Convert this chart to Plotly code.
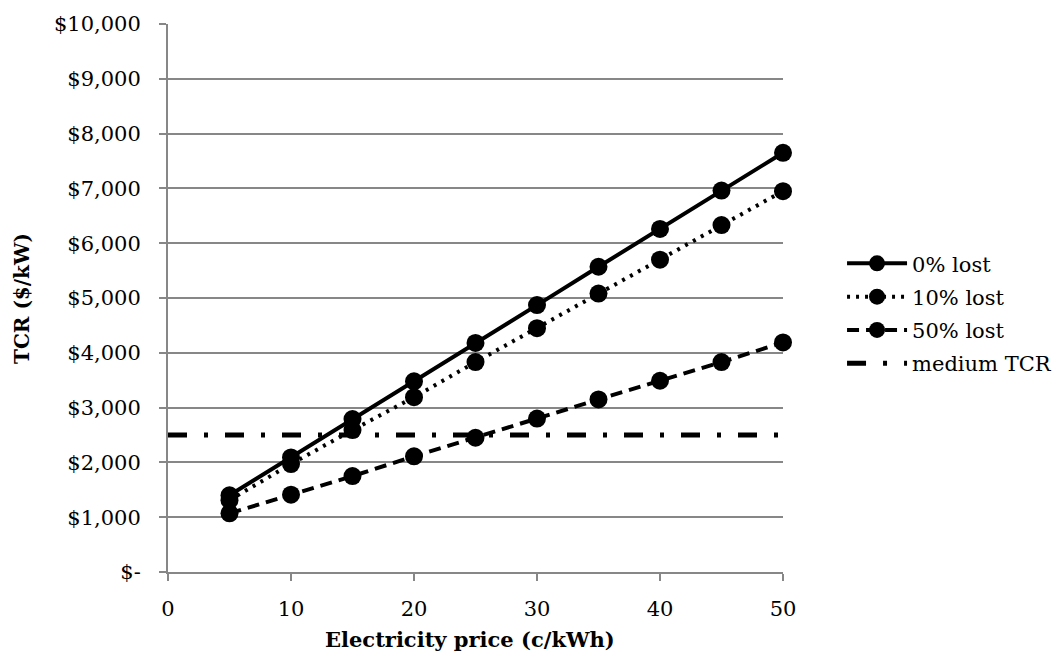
import plotly.graph_objects as go

price = [5, 10, 15, 20, 25, 30, 35, 40, 45, 50]
lost0 = [1400, 2090, 2790, 3480, 4180, 4870, 5570, 6260, 6960, 7650]
lost10 = [1310, 1970, 2590, 3190, 3830, 4450, 5080, 5700, 6330, 6950]
lost50 = [1070, 1410, 1750, 2110, 2450, 2800, 3150, 3490, 3830, 4190]
medium_x = [0, 50]
medium_tcr = [2500, 2500]

y_tickvals = [0, 1000, 2000, 3000, 4000, 5000, 6000, 7000, 8000, 9000, 10000]
y_ticktext = ["$-", "$1,000", "$2,000", "$3,000", "$4,000", "$5,000",
              "$6,000", "$7,000", "$8,000", "$9,000", "$10,000"]
x_tickvals = [0, 10, 20, 30, 40, 50]

FONT = "DejaVu Serif"
GRID = "#878787"

fig = go.Figure()
marker = dict(symbol="circle", size=18, color="black")
fig.add_trace(go.Scatter(x=price, y=lost0, name="0% lost", mode="lines+markers",
                         line=dict(color="black", width=4, dash="solid"),
                         marker=marker, cliponaxis=False, legendgroup="a"))
fig.add_trace(go.Scatter(x=price, y=lost10, name="10% lost", mode="lines+markers",
                         line=dict(color="black", width=4, dash="3px,6px"),
                         marker=marker, cliponaxis=False, legendgroup="b"))
fig.add_trace(go.Scatter(x=price, y=lost50, name="50% lost", mode="lines+markers",
                         line=dict(color="black", width=4, dash="12px,7px"),
                         marker=marker, cliponaxis=False, legendgroup="c"))
fig.add_trace(go.Scatter(x=medium_x, y=medium_tcr, name="medium TCR", mode="lines",
                         line=dict(color="black", width=5, dash="19px,17px,4px,17px"),
                         cliponaxis=False, legendgroup="d"))

fig.update_layout(
    width=1060, height=657,
    margin=dict(l=168, r=277, t=24, b=85, autoexpand=False),
    paper_bgcolor="white", plot_bgcolor="white",
    font=dict(family=FONT, size=20, color="black"),
    showlegend=True,
    legend=dict(x=1.096, y=0.60, xanchor="left", yanchor="top",
                font=dict(family=FONT, size=21, color="black"),
                traceorder="grouped", tracegroupgap=3,
                bgcolor="rgba(0,0,0,0)", itemwidth=60),
    xaxis=dict(range=[0, 50], tickvals=x_tickvals, ticks="outside", ticklen=7,
               tickwidth=2, tickcolor=GRID, showline=True, linecolor=GRID, linewidth=2,
               showgrid=False, zeroline=False, ticklabelstandoff=10,
               tickfont=dict(family=FONT, size=21, color="black")),
    yaxis=dict(range=[0, 10000], tickvals=y_tickvals, ticktext=y_ticktext,
               ticks="outside", ticklen=7, tickwidth=2, tickcolor=GRID,
               showline=True, linecolor=GRID, linewidth=2, ticklabelstandoff=14,
               showgrid=True, gridcolor=GRID, gridwidth=2, zeroline=False,
               tickfont=dict(family=FONT, size=21, color="black")),
    annotations=[
        dict(text="<b>Electricity price (c/kWh)</b>", xref="paper", yref="paper",
             x=0.491, y=-0.124, xanchor="center", yanchor="middle", showarrow=False,
             font=dict(family=FONT, size=21, color="black")),
        dict(text="<b>TCR ($/kW)</b>", xref="paper", yref="paper",
             x=-0.2374, y=0.5, xanchor="center", yanchor="middle", showarrow=False,
             textangle=-90, font=dict(family=FONT, size=20, color="black")),
    ],
)

fig.write_html("out.html")
